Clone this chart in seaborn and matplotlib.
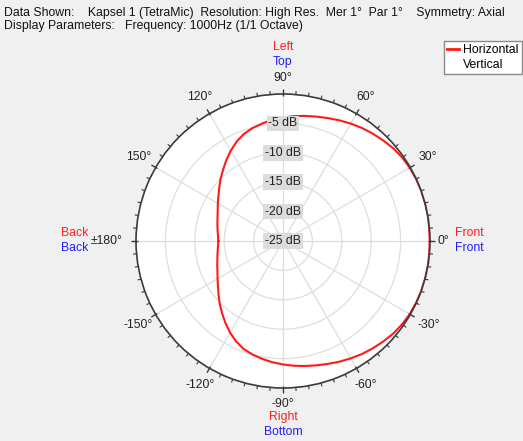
import numpy as np
import pandas as pd
import matplotlib
matplotlib.use("Agg")
import matplotlib.pyplot as plt
import seaborn as sns
from matplotlib.lines import Line2D

angles_deg = list(range(-180, 181, 5))
horizontal_db = [
    # -180 .. -95
    -14.0, -13.9, -13.7, -13.45, -13.1, -12.7, -12.15, -11.5, -10.7, -9.8,
    -8.9, -7.95, -7.0, -6.15, -5.45, -5.0, -4.65, -4.3,
    # -90 .. -5
    -4.0, -3.7, -3.42, -3.1, -2.75, -2.35, -1.95, -1.55, -1.2, -0.85,
    -0.52, -0.28, -0.12, -0.05, -0.01, 0.0, -0.01, -0.03,
    # 0 .. 85
    -0.05, -0.03, 0.0, 0.0, 0.0, -0.03, -0.1, -0.25, -0.5, -0.85,
    -1.2, -1.55, -1.95, -2.35, -2.75, -3.1, -3.4, -3.68,
    # 90 .. 180
    -3.98, -4.3, -4.7, -5.1, -5.6, -6.35, -7.25, -8.2, -9.15, -10.0,
    -10.85, -11.6, -12.2, -12.75, -13.15, -13.45, -13.7, -13.9, -14.0,
]

ring_db = [-5, -10, -15, -20, -25]
ring_labels = ["-5 dB", "-10 dB", "-15 dB", "-20 dB", "-25 dB"]
angle_ticks = [0, 30, 60, 90, 120, 150, 180, -150, -120, -90, -60, -30]
angle_labels = ["0°", "30°", "60°", "90°", "120°", "150°", "±180°",
                "-150°", "-120°", "-90°", "-60°", "-30°"]
label_offset = [13, 20, 19, 16, 19, 20, 29, 20, 19, 16, 19, 21]

df = pd.DataFrame({"theta": np.deg2rad(angles_deg), "level": horizontal_db})

plt.rcParams["font.family"] = ["Liberation Sans", "DejaVu Sans"]
plt.rcParams["font.size"] = 8.8

W, H = 523, 441
fig = plt.figure(figsize=(W / 100, H / 100), dpi=100, facecolor="#F0F0F0")
cx, cy, R = 283, 241, 147
ax = fig.add_axes([(cx - R) / W, (H - cy - R) / H, 2 * R / W, 2 * R / H],
                  projection="polar")
ax.set_facecolor("white")
ax.set_ylim(-25, 0)

# grid
ax.set_yticks([-20, -15, -10, -5])
ax.set_yticklabels([])
ax.set_xticks(np.deg2rad(np.arange(0, 360, 30)))
ax.set_xticklabels([])
ax.grid(True, color="#DEDEDE", lw=0.9)
ax.spines["polar"].set_color("#3A3A3A")
ax.spines["polar"].set_linewidth(1.2)

# tick marks around the rim (5 deg minor, 30 deg major)
px = 25 / R  # dB per pixel
for a in range(0, 360, 5):
    t = np.deg2rad(a)
    if a % 30 == 0:
        ax.plot([t, t], [-2 * px, 5 * px], color="#3A3A3A", lw=1.0,
                clip_on=False, solid_capstyle="butt")
    else:
        ax.plot([t, t], [0, 3.5 * px], color="#3A3A3A", lw=0.8,
                clip_on=False, solid_capstyle="butt")

sns.lineplot(data=df, x="theta", y="level", ax=ax, sort=False,
             color="#FF1A1A", lw=1.5, legend=False)
ax.set_xlabel("")
ax.set_ylabel("")
ax.set_ylim(-25, 0)

for db, lab in zip(ring_db, ring_labels):
    ax.text(np.pi / 2, db, lab, ha="center", va="center", color="#222222",
            bbox=dict(boxstyle="square,pad=0.15", fc="#DCDCDC", ec="none"))

for a, lab, off in zip(angle_ticks, angle_labels, label_offset):
    t = np.deg2rad(a)
    ax.annotate(lab, xy=(t, 0), xytext=(off * np.cos(t), off * np.sin(t)),
                textcoords="offset pixels", ha="center", va="center",
                color="#222222", annotation_clip=False)

def ftext(x, y, s, **kw):
    fig.text(x / W, 1 - y / H, s, va="center", **kw)

ftext(283, 47, "Left", ha="center", color="#FF2020")
ftext(283, 62, "Top", ha="center", color="#2020FF")
ftext(283, 417, "Right", ha="center", color="#FF2020")
ftext(283, 432, "Bottom", ha="center", color="#2020FF")
ftext(75, 233, "Back", ha="center", color="#FF2020")
ftext(75, 248, "Back", ha="center", color="#2020FF")
ftext(455, 233, "Front", ha="left", color="#FF2020")
ftext(455, 248, "Front", ha="left", color="#2020FF")

ftext(4, 13, "Data Shown:    Kapsel 1 (TetraMic)  Resolution: High Res.  "
      "Mer 1°  Par 1°    Symmetry: Axial", ha="left", color="#111111")
ftext(4, 26, "Display Parameters:   Frequency: 1000Hz (1/1 Octave)",
      ha="left", color="#111111")

handles = [Line2D([], [], color="#FF1A1A", lw=2),
           Line2D([], [], color="none", lw=2)]
leg = fig.legend(handles, ["Horizontal", "Vertical"], loc="upper left",
                 bbox_to_anchor=(444 / W, 1 - 41 / H), fancybox=False,
                 framealpha=1, edgecolor="#8A8A8A", borderpad=0.25,
                 handlelength=1.0, handletextpad=0.3, labelspacing=0.2,
                 borderaxespad=0)
leg.get_frame().set_linewidth(1.0)

fig.savefig("out.png", dpi=100, facecolor=fig.get_facecolor())
